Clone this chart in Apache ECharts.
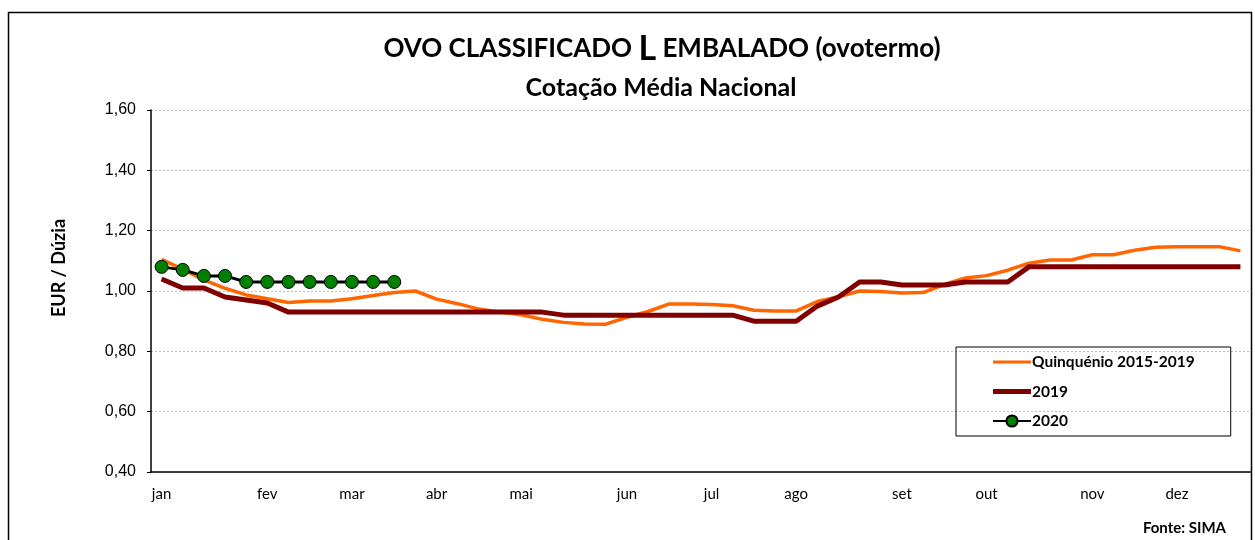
<!DOCTYPE html>
<html>
<head>
<meta charset="utf-8">
<script src="https://cdn.jsdelivr.net/npm/echarts@6/dist/echarts.min.js"></script>
<style>
  html, body { margin: 0; padding: 0; background: #fff; }
  #main { width: 1255px; height: 540px; }
</style>
</head>
<body>
<div id="main"></div>
<script>
var chartDom = document.getElementById('main');
var myChart = echarts.init(chartDom);
var option;

// month names and the week (0-based) where each label sits
var months = ['jan', 'fev', 'mar', 'abr', 'mai', 'jun', 'jul', 'ago', 'set', 'out', 'nov', 'dez'];
var monthWeek = [0, 5, 9, 13, 17, 22, 26, 30, 35, 39, 44, 48];

// Quinquénio 2015-2019 (52 weeks)
var quinquenio = [
    1.105, 1.072, 1.037, 1.009, 0.987, 0.974, 0.962, 0.967, 0.967, 0.974,
    0.985, 0.995, 1.000, 0.973, 0.958, 0.940, 0.930, 0.921, 0.906, 0.896,
    0.891, 0.890, 0.913, 0.932, 0.957, 0.957, 0.955, 0.951, 0.936, 0.934,
    0.934, 0.965, 0.981, 1.000, 0.998, 0.993, 0.995, 1.022, 1.043, 1.051,
    1.069, 1.092, 1.103, 1.103, 1.120, 1.120, 1.135, 1.145, 1.147, 1.147,
    1.147, 1.133
];

// 2019
var ano2019 = [
    1.04, 1.01, 1.01, 0.98, 0.97, 0.96, 0.93, 0.93, 0.93, 0.93,
    0.93, 0.93, 0.93, 0.93, 0.93, 0.93, 0.93, 0.93, 0.93, 0.92,
    0.92, 0.92, 0.92, 0.92, 0.92, 0.92, 0.92, 0.92, 0.90, 0.90,
    0.90, 0.95, 0.98, 1.03, 1.03, 1.02, 1.02, 1.02, 1.03, 1.03,
    1.03, 1.08, 1.08, 1.08, 1.08, 1.08, 1.08, 1.08, 1.08, 1.08,
    1.08, 1.08
];

// 2020 (first 12 weeks)
var ano2020 = [1.08, 1.07, 1.05, 1.05, 1.03, 1.03, 1.03, 1.03, 1.03, 1.03, 1.03, 1.03];

var weeks = [];
for (var i = 0; i < quinquenio.length; i++) {
    var k = monthWeek.indexOf(i);
    weeks.push(k >= 0 ? months[k] : '');
}

var calib = 'Lato, "Open Sans", sans-serif';

option = {
    animation: false,
    backgroundColor: '#fff',
    legend: {
        orient: 'vertical',
        left: 956,
        top: 347,
        padding: [7, 36, 7, 36],
        itemGap: 13.5,
        itemWidth: 38,
        itemHeight: 14,
        borderColor: '#000',
        borderWidth: 1,
        textStyle: { fontFamily: calib, fontWeight: 'bold', fontSize: 15.5, lineHeight: 14, color: '#000', padding: [0, 0, 0, -4] },
        data: [
            { name: 'Quinquénio 2015-2019', icon: 'path://M0,0H38V3H0Z' },
            { name: '2019', icon: 'path://M0,0H38V5H0Z' },
            { name: '2020' }
        ]
    },
    grid: {
        left: 151,
        right: 4,
        top: 110,
        bottom: 68
    },
    xAxis: {
        type: 'category',
        data: weeks,
        boundaryGap: true,
        axisLine: { lineStyle: { color: '#000', width: 1.5 } },
        axisTick: { inside: true, length: 4, interval: 0, lineStyle: { color: '#000' } },
        axisLabel: { interval: 0, margin: 15, fontFamily: calib, fontSize: 15, color: '#000' },
        splitLine: { show: false }
    },
    yAxis: {
        type: 'value',
        min: 0.4,
        max: 1.6,
        interval: 0.2,
        axisLine: { show: true, lineStyle: { color: '#000', width: 1.5 } },
        axisTick: { show: true, length: 4, lineStyle: { color: '#000' } },
        axisLabel: {
            margin: 15,
            fontFamily: '"Liberation Sans", Arial, sans-serif',
            fontSize: 16,
            color: '#000',
            formatter: function (v) { return v.toFixed(2).replace('.', ','); }
        },
        splitLine: { lineStyle: { color: '#c0c0c0', type: [2, 2], width: 1 } }
    },
    graphic: [
        {
            type: 'rect',
            shape: { x: 8.5, y: 12.5, width: 1243, height: 540 },
            style: { fill: 'none', stroke: '#000', lineWidth: 1.5 },
            silent: true
        },
        {
            type: 'text',
            x: 662,
            y: 49,
            style: {
                text: '{a|OVO CLASSIFICADO }{b|L}{a| EMBALADO (ovotermo)}',
                align: 'center',
                verticalAlign: 'middle',
                rich: {
                    a: { fontFamily: calib, fontWeight: 'bold', fontSize: 26, fill: '#000' },
                    b: { fontFamily: calib, fontWeight: 'bold', fontSize: 34, fill: '#000' }
                }
            }
        },
        {
            type: 'text',
            x: 661,
            y: 88,
            style: {
                text: 'Cotação Média Nacional',
                align: 'center',
                verticalAlign: 'middle',
                font: 'bold 25px ' + calib,
                fill: '#000'
            }
        },
        {
            type: 'text',
            x: 59,
            y: 268,
            rotation: Math.PI / 2,
            style: {
                text: 'EUR / Dúzia',
                align: 'center',
                verticalAlign: 'middle',
                font: 'bold 18px ' + calib,
                fill: '#000'
            }
        },
        {
            type: 'text',
            x: 1226,
            y: 528,
            style: {
                text: 'Fonte: SIMA',
                align: 'right',
                verticalAlign: 'middle',
                font: 'bold 15px ' + calib,
                fill: '#000'
            }
        }
    ],
    series: [
        {
            name: 'Quinquénio 2015-2019',
            type: 'line',
            data: quinquenio,
            symbol: 'none',
            color: '#ff6600',
            lineStyle: { color: '#ff6600', width: 3.5 },
            z: 2
        },
        {
            name: '2019',
            type: 'line',
            data: ano2019,
            symbol: 'none',
            color: '#800000',
            lineStyle: { color: '#800000', width: 5 },
            z: 3
        },
        {
            name: '2020',
            type: 'line',
            data: ano2020,
            symbol: 'circle',
            symbolSize: 13,
            showAllSymbol: true,
            color: '#008000',
            itemStyle: { color: '#008000', borderColor: '#000', borderWidth: 1 },
            lineStyle: { color: '#000', width: 3 },
            z: 4
        }
    ]
};

myChart.setOption(option);
</script>
</body>
</html>
